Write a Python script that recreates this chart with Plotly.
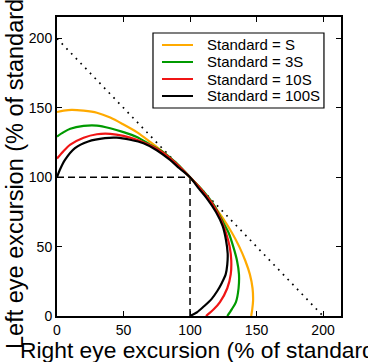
import plotly.graph_objects as go

# ---- data ----
labels = ["Standard = S", "Standard = 3S", "Standard = 10S", "Standard = 100S"]
colors = ["#FFAA00", "#009A00", "#F01515", "#000000"]

s_x = [0, 5, 11, 20, 30, 40, 50, 60, 70, 80, 90, 100,
       109.5, 117.5, 125, 131.5, 137, 141.5, 145, 147, 147.4, 146.8, 146]
s_y = [147, 148, 148.6, 148, 146.5, 143, 138, 132.5, 125.5, 118, 109.5, 100,
       90, 80, 70, 60, 50, 40, 30, 20, 11, 5, 0]

s3_x = [0, 5, 10, 20, 30, 40, 50, 60, 70, 80, 90, 100,
        110, 118, 123.5, 129, 132.5, 135.3, 136.8, 136.5, 134.5, 131.5, 128]
s3_y = [129.3, 132.5, 135, 137, 137.2, 135.3, 132.5, 129, 123.5, 118, 110, 100,
        90, 80, 70, 60, 50, 40, 30, 20, 10, 5, 0]

s10_x = [0, 5, 10, 20, 30, 40, 50, 60, 70, 80, 90, 100,
         109.5, 117.5, 123, 127, 129.8, 131, 130.6, 128, 122.5, 118, 112]
s10_y = [113.5, 119, 123.5, 128.5, 131, 131.3, 129.8, 127, 123, 117.5, 109.5, 100,
         90, 80, 70, 60, 50, 40, 30, 20, 10, 5, 0]

s100_x = [0, 2, 6, 13.5, 23.5, 36, 45, 55, 65, 75, 85, 92, 100,
          106.5, 112.5, 119.5, 124.5, 127, 128.3, 128, 126.8, 124, 120.5, 116, 110.5, 105, 100]
s100_y = [100, 105, 112.5, 121, 125.8, 128.2, 128.5, 127, 124.5, 119.5, 112.5, 106.5, 100,
          92, 85, 75, 65, 55, 45, 37, 30, 24, 18, 12, 7, 2.5, 0]

diag_x = [0, 200]
diag_y = [200, 0]
ref_h_x = [0, 100]
ref_h_y = [100, 100]
ref_v_x = [100, 100]
ref_v_y = [0, 100]

x_ticks = [0, 50, 100, 150, 200]
y_ticks = [0, 50, 100, 150, 200]

curves = [(s_x, s_y), (s3_x, s3_y), (s10_x, s10_y), (s100_x, s100_y)]

fig = go.Figure()
fig.add_trace(go.Scatter(x=diag_x, y=diag_y, mode="lines", showlegend=False,
                         line=dict(color="black", width=1.7, dash="1.7px,5.1px")))
fig.add_trace(go.Scatter(x=ref_h_x, y=ref_h_y, mode="lines", showlegend=False,
                         line=dict(color="black", width=1.5, dash="7px,4px")))
fig.add_trace(go.Scatter(x=ref_v_x, y=ref_v_y, mode="lines", showlegend=False,
                         line=dict(color="black", width=1.5, dash="7px,4px")))
for (cx, cy), lab, col in zip(curves, labels, colors):
    fig.add_trace(go.Scatter(x=cx, y=cy, mode="lines", name=lab, showlegend=False,
                             line=dict(color=col, width=2.2, shape="spline", smoothing=0.8)))

axis_common = dict(showline=True, linecolor="black", linewidth=2, mirror="ticks",
                   ticks="inside", ticklen=5, tickwidth=1, tickcolor="black",
                   showgrid=False, zeroline=False,
                   tickfont=dict(family="Liberation Sans", size=14, color="black"))
fig.update_xaxes(range=[0, 213.5], tickvals=x_ticks, **axis_common)
fig.update_yaxes(range=[0, 215.5], tickvals=y_ticks, **axis_common)

# ---- legend box (layout, paper coordinates) ----
leg_x0, leg_x1, leg_y0, leg_y1 = 0.338, 0.940, 0.6957, 0.9465
leg_line_x0, leg_line_x1, leg_text_x = 0.3697, 0.4789, 0.5211
leg_rows = [0.9064, 0.8495, 0.7926, 0.7358]

shapes = [dict(type="rect", xref="paper", yref="paper", x0=leg_x0, x1=leg_x1,
               y0=leg_y0, y1=leg_y1, line=dict(color="black", width=1.2),
               fillcolor="white", layer="above")]
annotations = []
for lab, col, ry in zip(labels, colors, leg_rows):
    shapes.append(dict(type="line", xref="paper", yref="paper", x0=leg_line_x0, x1=leg_line_x1,
                       y0=ry, y1=ry, line=dict(color=col, width=2.2), layer="above"))
    annotations.append(dict(text=lab, xref="paper", yref="paper", x=leg_text_x, y=ry,
                            xanchor="left", yanchor="middle", showarrow=False,
                            font=dict(size=15, family="Liberation Sans", color="black")))

annotations += [
    dict(text="Right eye excursion (% of standard)", xref="paper", yref="paper",
         x=-0.1373, y=-0.0635, xanchor="left", yanchor="top", showarrow=False,
         font=dict(size=22.8, family="Liberation Sans")),
    dict(text="Left eye excursion (% of standard)", xref="paper", yref="paper",
         x=-0.2007, y=-0.117, xanchor="left", yanchor="bottom", showarrow=False,
         textangle=-90, font=dict(size=23.5, family="Liberation Sans")),
]

fig.update_layout(
    width=368, height=362,
    margin=dict(l=57, r=27, t=17, b=46),
    plot_bgcolor="white", paper_bgcolor="white",
    font=dict(family="Liberation Sans", color="black"),
    showlegend=False,
    shapes=shapes,
    annotations=annotations,
)
fig.write_html("out.html")
